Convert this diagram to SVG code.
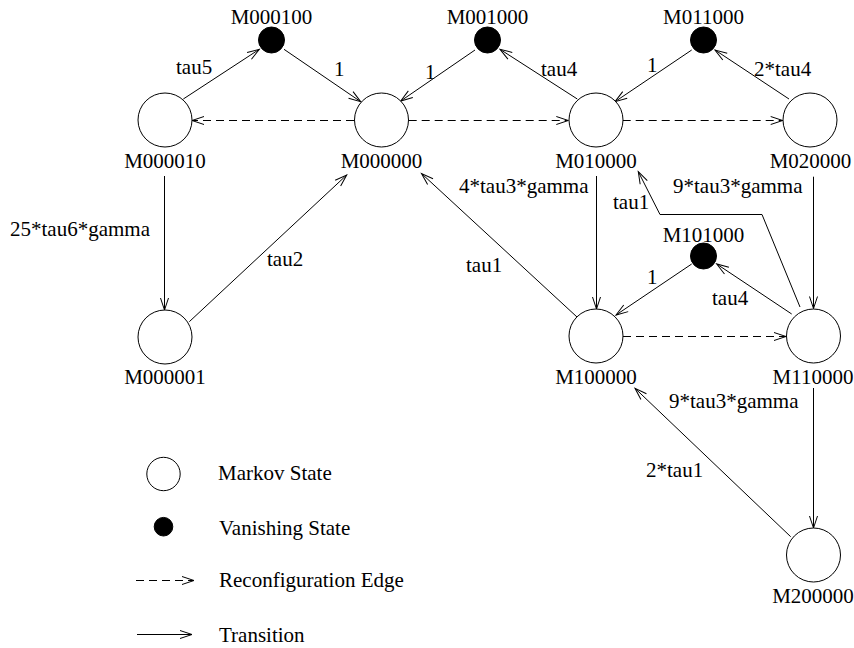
<svg xmlns="http://www.w3.org/2000/svg" width="854" height="648" viewBox="0 0 854 648">
<style>
  text { font-family: "Liberation Serif", "Times New Roman", serif; font-size: 21px; fill: #000; }
  .c { text-anchor: middle; }
  .st { fill: #fff; stroke: #000; stroke-width: 1; }
  .vs { fill: #000; stroke: #000; stroke-width: 1; }
  .e { fill: none; stroke: #000; stroke-width: 1; marker-end: url(#a); }
  .d { fill: none; stroke: #000; stroke-width: 1; stroke-dasharray: 8 5; marker-end: url(#a); }
</style>
<defs>
  <marker id="a" markerWidth="14" markerHeight="10" refX="12" refY="4" orient="auto" markerUnits="userSpaceOnUse" overflow="visible">
    <path d="M0,0 L12,4 L0,8" fill="none" stroke="#000" stroke-width="1" stroke-dasharray="none"/>
  </marker>
</defs>
<rect width="854" height="648" fill="#fff"/>

<g id="connectors">
  <line class="e" x1="183.3" y1="99" x2="259.3" y2="49.3"/>
  <line class="e" x1="284" y1="49.3" x2="360.7" y2="101.7"/>
  <line class="e" x1="475" y1="50" x2="400.7" y2="101"/>
  <line class="e" x1="577.3" y1="99" x2="500" y2="49.3"/>
  <line class="e" x1="691.7" y1="50" x2="615" y2="101.7"/>
  <line class="e" x1="789" y1="99" x2="715" y2="50"/>
  <line class="d" x1="354" y1="120.5" x2="192" y2="120.5"/>
  <line class="d" x1="408.7" y1="120.5" x2="568.3" y2="120.5"/>
  <line class="d" x1="622.7" y1="120.5" x2="782.7" y2="120.5"/>
  <line class="e" x1="164.5" y1="176" x2="164.5" y2="310"/>
  <line class="e" x1="189.3" y1="321.7" x2="346.7" y2="175"/>
  <line class="e" x1="577" y1="317" x2="421.5" y2="173.5"/>
  <line class="e" x1="596.5" y1="176" x2="596.5" y2="309"/>
  <polyline class="e" points="800,307 762,214.5 660,214.5 638.3,171.7"/>
  <line class="e" x1="813.5" y1="176.7" x2="813.5" y2="308.5"/>
  <line class="e" x1="691.7" y1="264" x2="616" y2="315"/>
  <line class="e" x1="791.7" y1="314" x2="716.7" y2="264"/>
  <line class="d" x1="623" y1="336.5" x2="786" y2="336.5"/>
  <line class="e" x1="813.5" y1="388" x2="813.5" y2="528"/>
  <line class="e" x1="790.7" y1="536.7" x2="635" y2="388.3"/>
</g>

<g id="edge-labels">
  <text x="176" y="74">tau5</text>
  <text x="334" y="76">1</text>
  <text x="425" y="79">1</text>
  <text x="541" y="76">tau4</text>
  <text x="647" y="72">1</text>
  <text x="754" y="76">2*tau4</text>
  <text x="10" y="236">25*tau6*gamma</text>
  <text x="267" y="266">tau2</text>
  <text x="459" y="193">4*tau3*gamma</text>
  <text x="466" y="272">tau1</text>
  <text x="613" y="209">tau1</text>
  <text x="673" y="193">9*tau3*gamma</text>
  <text x="647" y="284">1</text>
  <text x="712" y="305">tau4</text>
  <text x="669" y="408">9*tau3*gamma</text>
  <text x="646" y="477">2*tau1</text>
</g>

<g id="M000100"><circle class="vs" cx="271.5" cy="40" r="13"/><text class="c" x="271.5" y="24">M000100</text></g>
<g id="M001000"><circle class="vs" cx="487.5" cy="40" r="13"/><text class="c" x="487.5" y="24">M001000</text></g>
<g id="M011000"><circle class="vs" cx="703.5" cy="40" r="13"/><text class="c" x="703.5" y="24">M011000</text></g>
<g id="M000010"><circle class="st" cx="165" cy="120" r="27"/><text class="c" x="165" y="168">M000010</text></g>
<g id="M000000"><circle class="st" cx="381.5" cy="120" r="27"/><text class="c" x="381.5" y="168">M000000</text></g>
<g id="M010000"><circle class="st" cx="596" cy="120" r="27"/><text class="c" x="596" y="168">M010000</text></g>
<g id="M020000"><circle class="st" cx="810" cy="120" r="27"/><text class="c" x="810.5" y="168">M020000</text></g>
<g id="M101000"><circle class="vs" cx="703.5" cy="256" r="13"/><text class="c" x="703.5" y="242">M101000</text></g>
<g id="M000001"><circle class="st" cx="165" cy="337" r="27"/><text class="c" x="165" y="384">M000001</text></g>
<g id="M100000"><circle class="st" cx="596" cy="336" r="27"/><text class="c" x="596" y="384">M100000</text></g>
<g id="M110000"><circle class="st" cx="813.5" cy="336" r="27"/><text class="c" x="813" y="384">M110000</text></g>
<g id="M200000"><circle class="st" cx="813.5" cy="555" r="27"/><text class="c" x="813" y="603">M200000</text></g>

<g id="legend">
  <circle class="st" cx="163.5" cy="474" r="16.7"/>
  <text x="218" y="480">Markov State</text>
  <circle class="vs" cx="163.5" cy="526.7" r="9.3"/>
  <text x="219" y="535">Vanishing State</text>
  <line class="d" x1="136" y1="580.5" x2="194" y2="580.5"/>
  <text x="219" y="587">Reconfiguration Edge</text>
  <line class="e" x1="137" y1="634.5" x2="192" y2="634.5"/>
  <text x="219" y="641.5">Transition</text>
</g>
</svg>
